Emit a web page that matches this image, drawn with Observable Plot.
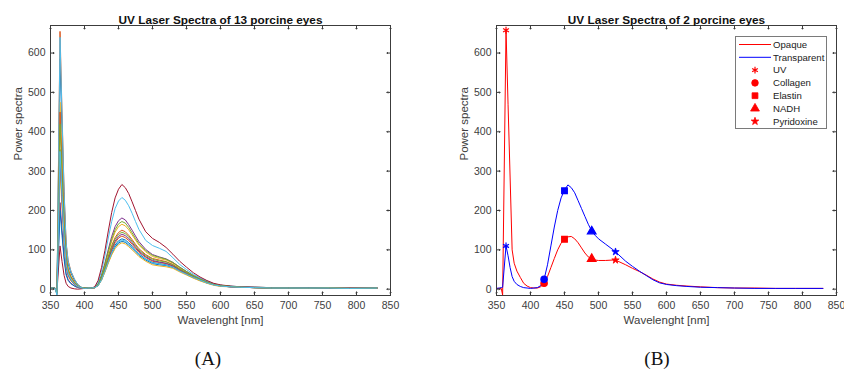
<!DOCTYPE html>
<html>
<head>
<meta charset="utf-8">
<script src="https://cdn.jsdelivr.net/npm/d3@7"></script>
<script src="https://cdn.jsdelivr.net/npm/@observablehq/plot@0.6"></script>
<style>
  html, body { margin: 0; padding: 0; background: #fff; }
  #wrap { position: relative; width: 844px; height: 376px; overflow: hidden; background: #fff; }
  .panel { position: absolute; top: 0; }
  .cap { position: absolute; font-family: "Liberation Serif", "Times New Roman", serif; font-size: 19px; color: #111; transform: translate(-50%, -50%); }
  #legend { position: absolute; left: 735px; top: 36px; width: 92px; height: 93px; box-sizing: border-box; border: 1px solid #7a7a7a; background: #fff; }
</style>
</head>
<body>
<div id="wrap">
  <div id="pa" class="panel" style="left:0px"></div>
  <div id="pb" class="panel" style="left:420px"></div>
  <div id="legend"></div>
  <div class="cap" style="left:208px; top:359px">(A)</div>
  <div class="cap" style="left:657px; top:359px">(B)</div>
</div>
<script>
// ---------- axis ticks ----------
const xTicks = [350, 400, 450, 500, 550, 600, 650, 700, 750, 800, 850];
const yTicks = [0, 100, 200, 300, 400, 500, 600];

// ---------- Panel A: 13 porcine eyes ----------
const wlA = [350, 354, 357, 359.5, 364, 367, 370, 373, 376, 380, 385, 390, 395, 400,
  405, 410, 415, 420, 425, 430, 435, 440, 445, 450, 455, 460, 465, 470, 475, 480,
  490, 500, 510, 520, 530, 540, 550, 560, 570, 580, 590, 600, 615, 630, 650, 675,
  700, 730, 760, 790, 830];

const eye1  = [3, 3, 2, -12, 585, 398, 222, 105, 64, 41, 23, 11, 5, 3,
  3, 3, 4, 10, 25, 47, 72, 94, 112, 123, 128, 125, 118, 109, 99, 90, 77, 68, 65, 62, 57, 47, 39, 30, 23, 16, 11, 8, 6, 5, 4, 3, 3, 3, 2, 3, 3];
const eye2  = [3, 3, 2, -14, 655, 445, 249, 118, 72, 46, 26, 12, 5, 3,
  3, 3, 4, 11, 29, 55, 84, 111, 131, 144, 150, 146, 137, 126, 114, 103, 88, 78, 74, 70, 63, 52, 42, 33, 25, 18, 12, 9, 7, 5, 4, 3, 3, 3, 3, 3, 3];
const eye3  = [3, 3, 2, -10, 475, 323, 180, 86, 52, 33, 19, 9, 4, 3,
  3, 3, 4, 12, 32, 60, 92, 122, 145, 159, 165, 161, 151, 138, 125, 112, 95, 83, 78, 74, 66, 54, 44, 34, 26, 19, 13, 9, 7, 5, 4, 3, 3, 3, 2, 3, 3];
const eye4  = [3, 3, 2, -8, 220, 150, 84, 40, 24, 15, 9, 5, 3, 2,
  3, 3, 5, 14, 36, 66, 101, 134, 159, 174, 181, 176, 164, 150, 135, 121, 101, 88, 82, 77, 68, 56, 45, 35, 27, 19, 13, 10, 7, 6, 5, 4, 3, 3, 3, 2, 3];
const eye5  = [3, 3, 2, -9, 355, 241, 135, 64, 39, 25, 14, 7, 4, 2,
  3, 3, 5, 13, 34, 63, 96, 127, 151, 166, 172, 168, 157, 143, 129, 116, 98, 86, 81, 76, 68, 56, 45, 35, 26, 19, 13, 10, 7, 6, 5, 4, 3, 3, 2, 3, 3];
const eye6  = [3, 3, 2, -15, 640, 435, 243, 115, 70, 45, 26, 12, 5, 3,
  3, 3, 5, 18, 46, 85, 130, 172, 205, 224, 233, 226, 212, 193, 172, 152, 124, 111, 104, 96, 80, 63, 50, 38, 29, 21, 14, 10, 8, 6, 5, 4, 3, 3, 3, 3, 3];
const eye7  = [3, 3, 2, -6, 110, 70, 35, 15, 7, 3, 1, 0, 1, 2,
  3, 3, 6, 22, 55, 98, 148, 195, 232, 254, 266, 258, 243, 222, 200, 178, 146, 129, 119, 106, 89, 71, 56, 42, 31, 22, 15, 11, 8, 6, 5, 4, 3, 3, 3, 2, 3];
const eye8  = [3, 3, 2, -8, 200, 136, 76, 36, 22, 14, 8, 4, 3, 2,
  3, 3, 4, 9, 23, 45, 68, 90, 107, 117, 122, 119, 112, 104, 95, 86, 74, 65, 62, 60, 55, 46, 38, 29, 22, 16, 11, 8, 6, 5, 4, 3, 3, 3, 3, 3, 3];
const eye9  = [3, 3, 2, -11, 450, 306, 171, 81, 50, 32, 18, 8, 4, 3,
  3, 3, 4, 10, 26, 49, 75, 99, 118, 130, 135, 131, 124, 114, 104, 94, 81, 71, 68, 65, 59, 49, 40, 31, 24, 17, 12, 9, 6, 5, 4, 3, 3, 3, 3, 3, 3];
const eye10 = [3, 3, 2, -9, 300, 204, 114, 54, 33, 21, 12, 6, 3, 2,
  3, 3, 4, 9, 23, 43, 66, 87, 103, 113, 118, 115, 108, 100, 92, 83, 71, 62, 59, 57, 53, 44, 36, 28, 21, 15, 10, 7, 6, 5, 4, 3, 3, 2, 3, 3, 3];
const eye11 = [3, 3, 2, -9, 330, 224, 125, 59, 36, 23, 13, 6, 3, 2,
  3, 3, 4, 10, 27, 51, 78, 103, 122, 134, 140, 136, 128, 118, 107, 97, 83, 73, 69, 66, 60, 50, 41, 32, 24, 17, 12, 9, 6, 5, 4, 3, 3, 3, 2, 3, 3];
const eye12 = [3, 3, 2, -10, 420, 286, 160, 76, 46, 29, 17, 8, 4, 3,
  3, 3, 4, 11, 28, 53, 81, 107, 127, 139, 145, 141, 133, 122, 111, 100, 86, 76, 72, 69, 62, 51, 42, 33, 25, 18, 12, 9, 7, 5, 4, 3, 3, 3, 3, 2, 3];
const eye13 = [3, 3, 2, -14, 350, 238, 133, 63, 39, 25, 14, 7, 4, 2,
  3, 3, 4, 9, 24, 46, 70, 92, 109, 120, 125, 122, 115, 106, 97, 88, 76, 67, 64, 61, 56, 46, 38, 30, 23, 16, 11, 8, 6, 5, 4, 3, 3, 3, 3, 2, 3];

const eyeNames = ["Eye 1","Eye 2","Eye 3","Eye 4","Eye 5","Eye 6","Eye 7","Eye 8","Eye 9","Eye 10","Eye 11","Eye 12","Eye 13"];
const eyeSeries = [eye1, eye2, eye3, eye4, eye5, eye6, eye7, eye8, eye9, eye10, eye11, eye12, eye13];
const matlabColors = ["#0072BD","#D95319","#EDB120","#7E2F8E","#77AC30","#4DBEEE","#A2142F",
                      "#0072BD","#D95319","#EDB120","#7E2F8E","#77AC30","#4DBEEE"];

// ---------- Panel B: 2 porcine eyes ----------
const wlB = [350, 354, 357, 359, 364, 367, 370, 373, 376, 380, 385, 390, 395, 400,
  405, 410, 415, 420, 425, 430, 435, 440, 445, 450, 455, 460, 465, 470, 475, 480,
  485, 490, 495, 500, 510, 520, 525, 530, 540, 550, 560, 570, 580, 590, 600, 615,
  630, 650, 675, 700, 730, 760, 790, 830];
const opaque = [2, 2, 2, -15, 658, 470, 285, 100, 66, 46, 30, 15, 8, 4,
  3, 3, 6, 15, 32, 55, 78, 100, 117, 127, 133, 134, 128, 118, 105, 92,
  82, 76, 74, 73, 73, 74, 73, 70, 62, 53, 45, 36, 26, 18, 13, 10,
  8, 6, 4, 3, 3, 2, 2, 2];
const transparent = [2, 3, 4, 5, 110, 85, 55, 32, 20, 12, 7, 4, 3, 2,
  3, 4, 9, 25, 62, 110, 158, 200, 232, 252, 265, 258, 245, 225, 205, 185,
  165, 148, 137, 128, 115, 102, 95, 87, 71, 58, 46, 35, 24, 16, 12, 9,
  7, 5, 4, 3, 2, 2, 2, 2];
const seriesNames = ["Opaque", "Transparent"];
const seriesColors = ["#ff0000", "#0000ff"];

const markerNames = ["UV", "Collagen", "Elastin", "NADH", "Pyridoxine"];
const markerSymbols = ["asterisk", "circle", "square", "triangle", "star"];
const markerWl = [364, 420, 450, 490, 525];
const opaqueMarkerVals = [658, 15, 127, 77, 74];
const transparentMarkerVals = [110, 25, 250, 147, 95];

// ---------- build tables ----------
const tableA = eyeSeries.flatMap((vals, k) => vals.map((v, i) => ({wl: wlA[i], v, eye: eyeNames[k]})));
const tableB = [
  ...opaque.map((v, i) => ({wl: wlB[i], v, s: seriesNames[0]})),
  ...transparent.map((v, i) => ({wl: wlB[i], v, s: seriesNames[1]}))
];
const markersB = [
  ...markerNames.map((m, i) => ({wl: markerWl[i], v: opaqueMarkerVals[i], m, s: seriesNames[0]})),
  ...markerNames.map((m, i) => ({wl: markerWl[i], v: transparentMarkerVals[i], m, s: seriesNames[1]}))
];

const axisInk = "#3c3c3c";
const labelInk = "#404040";
const font = "'Liberation Sans', Arial, Helvetica, sans-serif";

function frameMarks(title) {
  return [
    Plot.axisX({ticks: xTicks, tickSize: 0, tickPadding: 6, label: null, fontSize: 10.5, fill: labelInk}),
    Plot.axisY({ticks: yTicks, tickSize: 0, tickPadding: 5, label: null, fontSize: 10.5, fill: labelInk}),
    // inward ticks on all four sides
    Plot.vector(xTicks, {x: d => d, frameAnchor: "bottom", length: 3.5, rotate: 0, anchor: "start", stroke: axisInk, strokeWidth: 1}),
    Plot.vector(xTicks, {x: d => d, frameAnchor: "top", length: 3.5, rotate: 180, anchor: "start", stroke: axisInk, strokeWidth: 1}),
    Plot.vector(yTicks, {y: d => d, frameAnchor: "left", length: 3.5, rotate: 90, anchor: "start", stroke: axisInk, strokeWidth: 1}),
    Plot.vector(yTicks, {y: d => d, frameAnchor: "right", length: 3.5, rotate: -90, anchor: "start", stroke: axisInk, strokeWidth: 1}),
    Plot.text([title], {text: d => d, frameAnchor: "top", dy: -10, fontWeight: "bold", fontSize: 11.8, fill: "#111"}),
    Plot.text(["Wavelenght [nm]"], {text: d => d, frameAnchor: "bottom", dy: 28, fontSize: 11.5, fill: labelInk}),
    Plot.text(["Power spectra"], {text: d => d, frameAnchor: "left", dx: -32, rotate: -90, fontSize: 11.5, fill: labelInk})
  ];
}

const common = {
  height: 340,
  marginTop: 25,
  marginBottom: 45,
  x: {domain: [350, 850]},
  y: {domain: [-16, 670]},
  style: {fontFamily: font, background: "transparent", overflow: "visible"}
};

const plotA = Plot.plot({
  ...common,
  width: 420,
  marginLeft: 50,
  marginRight: 30,
  color: {domain: eyeNames, range: matlabColors},
  marks: [
    Plot.line(tableA, {x: "wl", y: "v", z: "eye", stroke: "eye", strokeWidth: 1}),
    Plot.frame({stroke: axisInk, strokeWidth: 1}),
    ...frameMarks("UV Laser Spectra of 13 porcine eyes")
  ]
});
document.getElementById("pa").appendChild(plotA);

const plotB = Plot.plot({
  ...common,
  width: 424,
  marginLeft: 76,
  marginRight: 8,
  color: {domain: seriesNames, range: seriesColors},
  symbol: {domain: markerNames, range: markerSymbols},
  marks: [
    Plot.line(tableB, {x: "wl", y: "v", z: "s", stroke: "s", strokeWidth: 1}),
    Plot.dot(markersB.filter(d => d.m !== "Pyridoxine"), {x: "wl", y: "v", symbol: "m", fill: "s", stroke: "s", r: 3.2, strokeWidth: 1.2}),
    Plot.dot(markersB.filter(d => d.m === "Pyridoxine"), {x: "wl", y: "v", symbol: "m", fill: "s", stroke: "s", r: 2.3, strokeWidth: 0.8}),
    Plot.frame({stroke: axisInk, strokeWidth: 1}),
    ...frameMarks("UV Laser Spectra of 2 porcine eyes")
  ]
});
document.getElementById("pb").appendChild(plotB);

// ---------- Legend (panel B) ----------
const legendLabels = [...seriesNames, ...markerNames];
const symMap = {asterisk: d3.symbolAsterisk, circle: d3.symbolCircle, square: d3.symbolSquare, triangle: d3.symbolTriangle, star: d3.symbolStar};
const lsvg = d3.select("#legend").append("svg")
  .attr("width", 90).attr("height", 91)
  .style("font-family", font).style("font-size", "9.6px");
legendLabels.forEach((lab, i) => {
  const y = 7.5 + i * 12.8;
  if (i < 2) {
    lsvg.append("line").attr("x1", 3).attr("x2", 35).attr("y1", y).attr("y2", y)
      .attr("stroke", seriesColors[i]).attr("stroke-width", 1);
  } else {
    const sym = markerSymbols[i - 2];
    const size = sym === "star" ? 18 : (sym === "asterisk" ? 30 : 34);
    lsvg.append("path")
      .attr("d", d3.symbol(symMap[sym], size)())
      .attr("transform", `translate(19,${y})`)
      .attr("fill", "#ff0000").attr("stroke", "#ff0000").attr("stroke-width", sym === "asterisk" ? 1.2 : 0.8);
  }
  lsvg.append("text").attr("x", 37).attr("y", y).attr("dy", "0.35em")
    .attr("fill", "#222").text(lab);
});
</script>
</body>
</html>
